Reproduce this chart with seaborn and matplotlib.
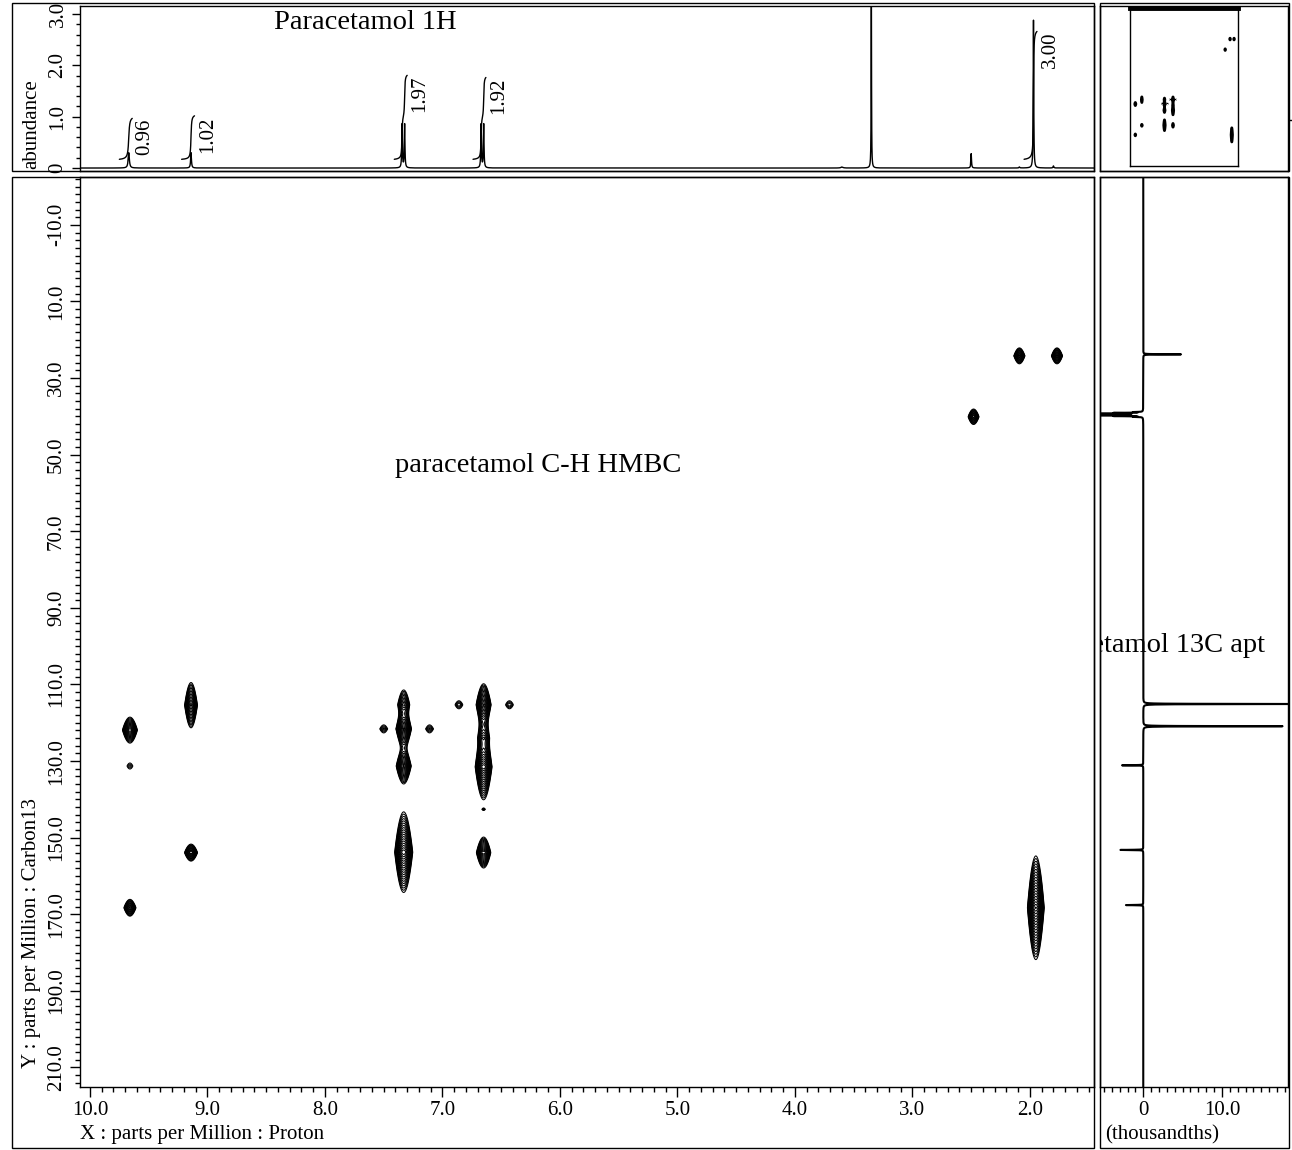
import numpy as np
import matplotlib
matplotlib.use("Agg")
import matplotlib.pyplot as plt
from matplotlib.patches import Rectangle
from matplotlib.ticker import MultipleLocator, FixedLocator, FuncFormatter
import seaborn as sns

# ---------------- data ----------------
# 1H spectrum peaks
h1_shift = [9.67, 9.14, 7.344, 7.322, 6.671, 6.649, 3.35, 2.50, 1.97, 2.09, 1.80, 3.60]
h1_height = [0.30, 0.30, 0.85, 0.85, 0.85, 0.85, 3.60, 0.28, 2.88, 0.02, 0.04, 0.02]
h1_width = [0.006, 0.004, 0.003, 0.003, 0.003, 0.003, 0.0018, 0.003, 0.0025, 0.004, 0.004, 0.01]

# 1H integrals
integral_shift = [9.67, 9.14, 7.33, 6.66, 1.97]
integral_value = [0.96, 1.02, 1.97, 1.92, 3.00]
integral_labels = ["0.96", "1.02", "1.97", "1.92", "3.00"]

# 13C APT peaks (ppm, intensity in thousandths)
c13_shift = [23.8, 38.87, 39.08, 39.29, 39.50, 39.71, 39.92, 40.13,
             115.1, 120.9, 131.1, 153.2, 167.6]
c13_amp = [4.8, -1.1, -3.4, -6.9, -8.0, -6.9, -3.4, -1.1,
           20.0, 17.7, -2.7, -2.9, -2.2]

# HMBC cross peaks: proton ppm, carbon ppm, amplitude, widths
hmbc_h = [9.66, 9.66, 9.66, 9.14, 9.14, 7.50, 7.33, 7.33, 7.33, 7.11, 7.33,
          6.86, 6.65, 6.65, 6.65, 6.65, 6.43, 6.65, 2.48, 2.09, 1.77, 1.95]
hmbc_c = [121.9, 131.3, 168.3, 115.4, 153.9, 121.6, 115.3, 121.6, 131.3, 121.6, 153.8,
          115.3, 115.3, 124.0, 131.5, 142.6, 115.3, 153.9, 40.1, 24.2, 24.2, 168.3]
hmbc_amp = [0.40, 0.05, 0.30, 0.50, 0.35, 0.065, 0.20, 0.60, 0.50, 0.065, 0.80,
            0.065, 0.60, 0.15, 0.80, 0.04, 0.065, 0.40, 0.28, 0.30, 0.30, 1.00]
hmbc_wh = [0.028, 0.025, 0.024, 0.023, 0.025, 0.027, 0.026, 0.027, 0.027, 0.027, 0.030,
           0.027, 0.026, 0.026, 0.028, 0.012, 0.027, 0.027, 0.022, 0.022, 0.022, 0.027]
hmbc_wc = [1.3, 1.5, 0.95, 2.1, 0.9, 1.35, 2.0, 1.6, 1.6, 1.35, 3.2,
           1.35, 1.8, 3.0, 2.6, 0.4, 1.35, 1.55, 0.9, 0.9, 0.9, 3.86]

# ---------------- style ----------------
sns.set_theme(style="white")
plt.rcParams["font.family"] = ["Liberation Serif", "DejaVu Serif"]
plt.rcParams.update({
    "axes.edgecolor": "black", "axes.linewidth": 1.0, "text.color": "black",
    "xtick.color": "black", "ytick.color": "black", "axes.labelcolor": "black",
})

W, H = 1292, 1150
fig = plt.figure(figsize=(W / 100, H / 100), dpi=100)


def rect(x0, y0, x1, y1):
    return [x0 / W, 1 - y1 / H, (x1 - x0) / W, (y1 - y0) / H]


def frame(x0, y0, x1, y1, lw=1.0):
    fig.add_artist(Rectangle((x0 / W, 1 - y1 / H), (x1 - x0) / W, (y1 - y0) / H,
                             fill=False, ec="black", lw=lw, transform=fig.transFigure))


XLIM = (10.085, 1.455)
YLIM = (215.1, -22.5)
FS = 15
TFS = 20.5


def fmt(v, pos=None):
    return "0" if abs(v) < 1e-9 else f"{v:.1f}"


ax_top = fig.add_axes(rect(80, 6, 1094, 171))
ax_main = fig.add_axes(rect(80, 177, 1094, 1087))
ax_right = fig.add_axes(rect(1100, 177, 1288, 1087))
ax_mo = fig.add_axes(rect(1100, 6, 1288, 171))
ax_mini = fig.add_axes(rect(1130, 8, 1238, 166))

# ---------------- 2D HMBC ----------------
gx = np.arange(1.40, 10.12, 0.004)
gy = np.arange(-23.0, 217.0, 0.2)
Z = np.zeros((gy.size, gx.size))
for h, c, a, wh, wc in zip(hmbc_h, hmbc_c, hmbc_amp, hmbc_wh, hmbc_wc):
    px = np.exp(-0.5 * ((gx - h) / wh) ** 2)
    py = np.exp(-np.abs(gy - c) / wc)
    Z += a * np.outer(py, px)
levels = 0.03 * 1.2 ** np.arange(21)
ax_main.contour(gx, gy, Z, levels=levels, colors="black", linewidths=0.75)
ax_main.set_xlim(*XLIM)
ax_main.set_ylim(*YLIM)
ax_main.xaxis.set_major_locator(MultipleLocator(1.0))
ax_main.xaxis.set_minor_locator(MultipleLocator(0.1))
ax_main.yaxis.set_major_locator(FixedLocator(np.arange(-10, 211, 20)))
ax_main.yaxis.set_minor_locator(MultipleLocator(2))
ax_main.xaxis.set_major_formatter(FuncFormatter(fmt))
ax_main.yaxis.set_major_formatter(FuncFormatter(fmt))
ax_main.tick_params(which="both", bottom=True, left=True, top=False, right=False)
ax_main.tick_params(which="major", length=7, width=1, direction="out", labelsize=FS, pad=3)
ax_main.tick_params(which="minor", length=3.5, width=1, direction="out")
ax_main.tick_params(axis="y", labelrotation=90)
for t in ax_main.get_yticklabels():
    t.set_va("center")
ax_main.text(7.40, 52.7, "paracetamol C-H HMBC", ha="left", va="center", fontsize=TFS)

# ---------------- 1H spectrum ----------------
hx = np.arange(1.40, 10.12, 0.0005)
hy = np.zeros_like(hx)
for p, hh, w in zip(h1_shift, h1_height, h1_width):
    hy += hh / (1 + ((hx - p) / w) ** 2)
sns.lineplot(x=hx, y=hy, ax=ax_top, color="black", lw=1.0, sort=False, estimator=None)
for p, v, lab in zip(integral_shift, integral_value, integral_labels):
    m = (hx <= p + 0.08) & (hx >= p - 0.03)
    seg_x = hx[m][::-1]
    seg_y = hy[m][::-1]
    cum = np.cumsum(seg_y)
    cum = cum / cum[-1]
    base = 0.17
    top = base + 0.83 * v
    ax_top.plot(seg_x, base + 0.83 * v * cum, color="black", lw=1.0)
    ax_top.text(p - 0.14, top - 0.36, lab, rotation=90, ha="center", va="center", fontsize=FS)
ax_top.set_xlim(*XLIM)
ax_top.set_ylim(-0.058, 3.156)
ax_top.set_xlabel("")
ax_top.set_ylabel("")
ax_top.tick_params(axis="x", which="both", bottom=False, labelbottom=False)
ax_top.yaxis.set_major_locator(FixedLocator([0, 1, 2, 3]))
ax_top.yaxis.set_minor_locator(MultipleLocator(0.2))
ax_top.yaxis.set_major_formatter(FuncFormatter(fmt))
ax_top.tick_params(axis="y", which="both", left=True, right=False)
ax_top.tick_params(axis="y", which="major", length=6, width=1, direction="out",
                   labelsize=FS, labelrotation=90, pad=3)
ax_top.tick_params(axis="y", which="minor", length=3, width=1, direction="out")
for t in ax_top.get_yticklabels():
    t.set_va("center")
ax_top.text(8.43, 2.83, "Paracetamol 1H", ha="left", va="center", fontsize=TFS)

# ---------------- 13C APT ----------------
cy = np.arange(-23.0, 217.0, 0.01)
cx = np.zeros_like(cy)
for p, a in zip(c13_shift, c13_amp):
    cx += a / (1 + ((cy - p) / 0.04) ** 2)
ax_right.text(-14.6, 99.7, "Paracetamol 13C apt", ha="left", va="center",
              fontsize=TFS, clip_on=True)
sns.lineplot(x=cx, y=cy, ax=ax_right, color="black", lw=1.5, sort=False,
             estimator=None, orient="y")
ax_right.set_xlim(-5.5, 18.4)
ax_right.set_ylim(*YLIM)
ax_right.set_xlabel("")
ax_right.set_ylabel("")
ax_right.xaxis.set_major_locator(FixedLocator([0, 10]))
ax_right.xaxis.set_minor_locator(MultipleLocator(1))
ax_right.xaxis.set_major_formatter(FuncFormatter(fmt))
ax_right.tick_params(axis="x", which="both", bottom=True, top=False)
ax_right.tick_params(axis="x", which="major", length=7, width=1, direction="out",
                     labelsize=FS, pad=3)
ax_right.tick_params(axis="x", which="minor", length=3.5, width=1, direction="out")
ax_right.tick_params(axis="y", which="both", left=False, labelleft=False)

# ---------------- overview thumbnail ----------------
ax_mo.set_xlim(0, 1)
ax_mo.set_ylim(0, 1)
ax_mo.tick_params(axis="x", bottom=False, labelbottom=False)
ax_mo.yaxis.tick_right()
ax_mo.set_yticks([0.31])
ax_mo.tick_params(axis="y", right=True, labelright=False, length=5, direction="out", width=1)

ax_mini.contourf(gx, gy, Z, levels=[0.06, 5], colors="black")
ax_mini.contour(gx, gy, Z, levels=[0.06], colors="black", linewidths=1.8)
ax_mini.set_xlim(*XLIM)
ax_mini.set_ylim(*YLIM)
ax_mini.set_xticks([])
ax_mini.set_yticks([])
ax_mini.spines["top"].set_linewidth(3.5)

# ---------------- labels and frames ----------------
fig.text(80 / W, 1 - 1135 / H, "X : parts per Million : Proton", ha="left", va="center", fontsize=FS)
fig.text(1105 / W, 1 - 1135 / H, "(thousandths)", ha="left", va="center", fontsize=FS)
fig.text(32 / W, 1 - 933 / H, "Y : parts per Million : Carbon13", ha="center", va="center",
         rotation=90, fontsize=FS)
fig.text(32 / W, 1 - 124 / H, "abundance", ha="center", va="center", rotation=90, fontsize=FS)

frame(12, 3, 1094, 171)
frame(12, 177, 1094, 1148)
frame(1100, 3, 1289, 171)
frame(1100, 177, 1289, 1148)

fig.savefig("out.png", dpi=100)
